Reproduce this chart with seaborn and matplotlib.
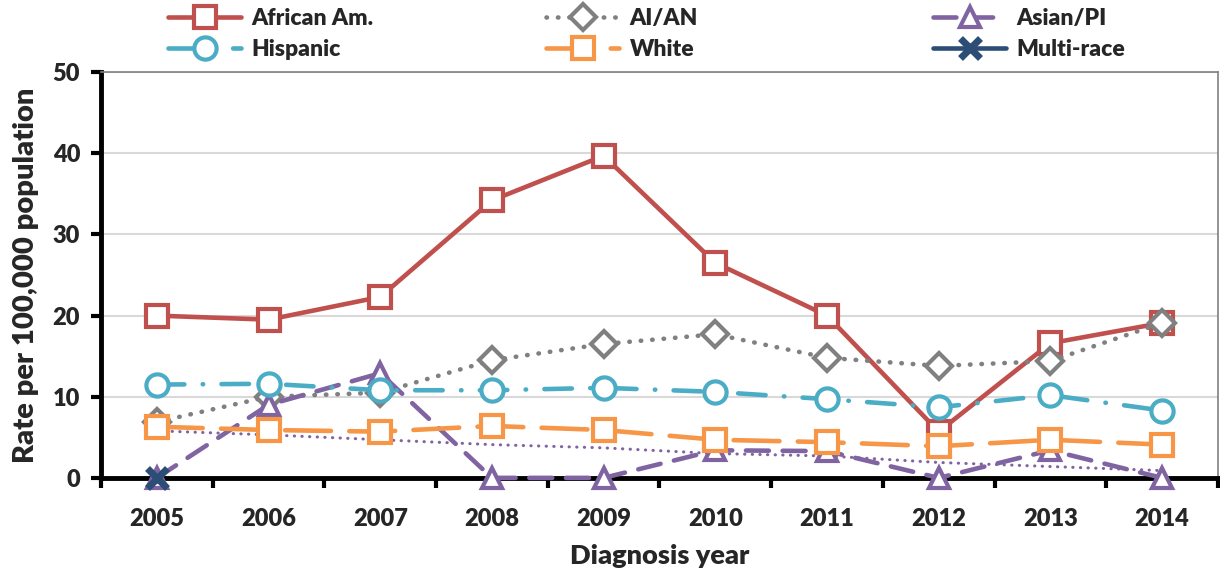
import numpy as np
import pandas as pd
import matplotlib
matplotlib.use("Agg")
import matplotlib.pyplot as plt
import seaborn as sns
from matplotlib.ticker import MultipleLocator

## data
years = [2005, 2006, 2007, 2008, 2009, 2010, 2011, 2012, 2013, 2014]
african_am = [20.0, 19.5, 22.3, 34.2, 39.7, 26.5, 20.0, 5.7, 16.6, 19.1]
ai_an = [6.9, 10.0, 10.5, 14.5, 16.5, 17.7, 14.8, 13.8, 14.4, 19.1]
asian_pi = [0.0, 9.0, 12.9, 0.0, 0.0, 3.4, 3.3, 0.0, 3.4, 0.0]
hispanic = [11.5, 11.6, 10.8, 10.8, 11.1, 10.6, 9.7, 8.7, 10.2, 8.3]
white = [6.3, 5.9, 5.7, 6.4, 5.9, 4.7, 4.4, 3.9, 4.7, 4.1]
multi_race = [0.0, np.nan, np.nan, np.nan, np.nan, np.nan, np.nan, np.nan, np.nan, np.nan]
asian_trend = [5.8, 5.3, 4.7, 4.1, 3.7, 3.0, 2.7, 1.9, 1.4, 0.9]

sns.set_theme(style="white")
plt.rcParams['font.family'] = ['Lato', 'DejaVu Sans']
plt.rcParams['font.weight'] = 'heavy'

fig = plt.figure(figsize=(12.2, 5.73), dpi=100)
ax = fig.add_axes([0.0828, 0.166, 0.9155, 0.708])

## series styles: label, values, color, marker, dashes
series = [
    ('African Am.', african_am, '#C0504D', 's', None),
    ('AI/AN', ai_an, '#808080', 'D', (0.1, 2.4)),
    ('Asian/PI', asian_pi, '#8064A2', '^', (5, 3)),
    ('Hispanic', hispanic, '#4BACC6', 'o', (6, 4, 0.1, 4)),
    ('White', white, '#F79646', 's', (10, 4)),
    ('Multi-race', multi_race, '#2C4D75', 'x', None),
]

# trend line drawn first (thin purple dots)
sns.lineplot(x=years, y=asian_trend, ax=ax, color='#8064A2', lw=2.2,
             legend=False, zorder=2)
ax.lines[-1].set_dashes((0.1, 2.4))
ax.lines[-1].set_dash_capstyle('round')

msize = {'s': 16, 'D': 13, '^': 15, 'o': 16, 'x': 15}
handles = {}
for i, (name, vals, col, mk, dash) in enumerate(series):
    df = pd.DataFrame({'year': years, 'rate': vals})
    sns.lineplot(data=df, x='year', y='rate', ax=ax, color=col, lw=3.3,
                 marker=mk, markersize=msize[mk],
                 markerfacecolor='white', markeredgecolor=col,
                 markeredgewidth=3 if mk != 'x' else 5,
                 legend=False, zorder=3 + i, clip_on=False)
    ln = ax.lines[-1]
    if dash is not None:
        ln.set_dashes(dash)
    ln.set_dash_capstyle('round')
    ln.set_solid_capstyle('round')
    handles[name] = ln

ax.set_xlim(2004.5, 2014.5)
ax.set_ylim(0, 50)
ax.yaxis.set_major_locator(MultipleLocator(10))
ax.set_xticks(years)
ax.xaxis.set_minor_locator(MultipleLocator(1, offset=0.5))
ax.tick_params(axis='x', which='major', length=0, pad=22, labelsize=17)
ax.tick_params(axis='x', which='minor', length=7, width=3, direction='out', color='black', bottom=True)
ax.tick_params(axis='y', which='major', length=7, width=3, direction='out', color='black', left=True, labelsize=17, pad=8)
ax.grid(axis='y', color='#D9D9D9', lw=1.5)
ax.set_axisbelow(True)

for s in ['left', 'bottom']:
    ax.spines[s].set_color('black')
    ax.spines[s].set_linewidth(3.5)
for s in ['top', 'right']:
    ax.spines[s].set_color('#808080')
    ax.spines[s].set_linewidth(1.2)

ax.set_xlabel('Diagnosis year', fontsize=19.5, fontweight='heavy', labelpad=10)
ax.set_ylabel('Rate per 100,000 population', fontsize=21, fontweight='heavy', labelpad=10)

## legend: three columns on a fixed grid
cols = [['African Am.', 'Hispanic'], ['AI/AN', 'White'], ['Asian/PI', 'Multi-race']]
xs = [168, 546, 933]
for names, x0 in zip(cols, xs):
    leg = fig.legend([handles[n] for n in names], names, loc='upper left',
                     bbox_to_anchor=(x0 / 1220, 1 - 8 / 573), frameon=False,
                     handlelength=3.2, handletextpad=0.45, labelspacing=0.45,
                     borderpad=0, borderaxespad=0,
                     prop={'weight': 'heavy', 'size': 16.5})

plt.savefig('out.png', dpi=100)
